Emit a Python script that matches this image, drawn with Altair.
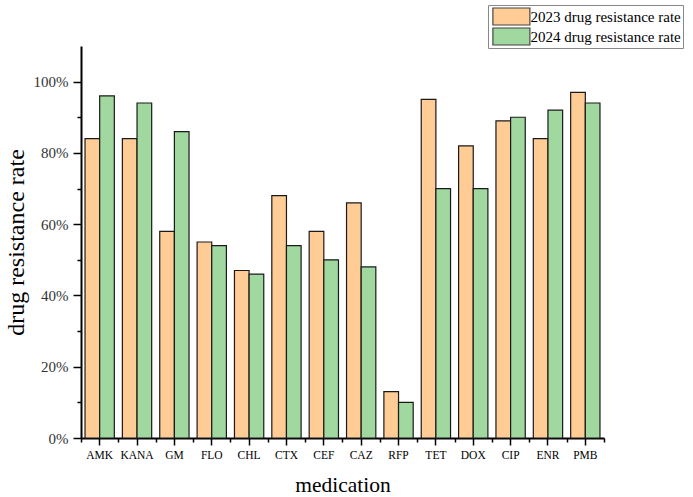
import altair as alt
import pandas as pd

# Drug resistance rates (%) by medication for two survey years
medications = ["AMK", "KANA", "GM", "FLO", "CHL", "CTX", "CEF", "CAZ",
               "RFP", "TET", "DOX", "CIP", "ENR", "PMB"]
rate_2023 = [84, 84, 58, 55, 47, 68, 58, 66, 13, 95, 82, 89, 84, 97]
rate_2024 = [96, 94, 86, 54, 46, 54, 50, 48, 10, 70, 70, 90, 92, 94]
series_names = ["2023 drug resistance rate", "2024 drug resistance rate"]
series_colors = ["#FFCC96", "#A0D8A0"]

# y ticks every 10 %, labelled every 20 %
y_ticks = [0, 10, 20, 30, 40, 50, 60, 70, 80, 90, 100]

rows = []
for name, values in zip(series_names, [rate_2023, rate_2024]):
    for med, v in zip(medications, values):
        rows.append({"medication": med, "series": name, "rate": v})
df = pd.DataFrame(rows)

FONT = "Liberation Serif"

x_scale = alt.Scale(domain=medications, paddingInner=0, paddingOuter=0)
y_scale = alt.Scale(domain=[0, 110], nice=False)

# wide rectangular legend swatch
swatch = "M-4,-1.84L4,-1.84L4,1.84L-4,1.84Z"

major = "datum.value % 20 === 0"

bars = alt.Chart(df).mark_bar(stroke="#1a1a1a", strokeWidth=1.2).encode(
    x=alt.X("medication:N", scale=x_scale, sort=medications,
            axis=alt.Axis(orient="bottom", title="medication", labelAngle=0,
                          tickSize=7, tickWidth=1.5, domainWidth=2,
                          domainColor="black", tickColor="black",
                          labelFont=FONT, labelFontSize=11.5, labelColor="black",
                          labelPadding=4, titleFont=FONT, titleFontSize=21.5,
                          titleFontWeight="normal", titleColor="black",
                          titlePadding=14)),
    xOffset=alt.XOffset("series:N", sort=series_names,
                        scale=alt.Scale(paddingInner=0, paddingOuter=0.275)),
    y=alt.Y("rate:Q", scale=y_scale,
            axis=alt.Axis(orient="left", values=y_ticks, title="drug resistance rate",
                          labelExpr=f"{major} ? datum.value + '%' : ''",
                          tickSize={"condition": {"test": major, "value": 8}, "value": 4},
                          tickWidth=1.5, domainWidth=2, domainColor="black",
                          tickColor="black", grid=False, labelFont=FONT,
                          labelFontSize=15, labelColor="#333", labelPadding=5,
                          labelOverlap=False, titleFont=FONT, titleFontSize=24,
                          titleFontWeight="normal", titleColor="black",
                          titlePadding=5)),
    color=alt.Color("series:N", sort=series_names,
                    scale=alt.Scale(domain=series_names, range=series_colors),
                    legend=alt.Legend(orient="none", legendX=407, legendY=-41,
                                      title=None, symbolType=swatch, symbolSize=85.5,
                                      symbolOffset=13.9, labelOffset=11.5,
                                      symbolStrokeColor="#444", symbolStrokeWidth=1.2,
                                      labelFont=FONT, labelFontSize=15,
                                      labelColor="black", labelLimit=300,
                                      clipHeight=19, rowPadding=1,
                                      strokeColor="#888", padding=2,
                                      fillColor="white")),
)

# tick-only axis marking the boundaries between medications
boundaries = alt.Chart(df).mark_point(opacity=0).encode(
    x=alt.X("medication:N", scale=x_scale, sort=medications,
            axis=alt.Axis(orient="bottom", title=None, labels=False, domain=False,
                          tickBand="extent", tickSize=4, tickWidth=1.5,
                          tickColor="black")),
)

chart = alt.layer(bars, boundaries).resolve_axis(x="independent").resolve_scale(
    x="shared", y="shared"
).properties(
    width=523, height=392,
    background="white",
    autosize=alt.AutoSizeParams(type="none"),
    padding={"left": 81, "top": 46, "right": 89, "bottom": 59},
).configure_view(stroke="transparent", strokeWidth=0)

chart.save("out.html", embed_options={"renderer": "svg", "actions": False})
